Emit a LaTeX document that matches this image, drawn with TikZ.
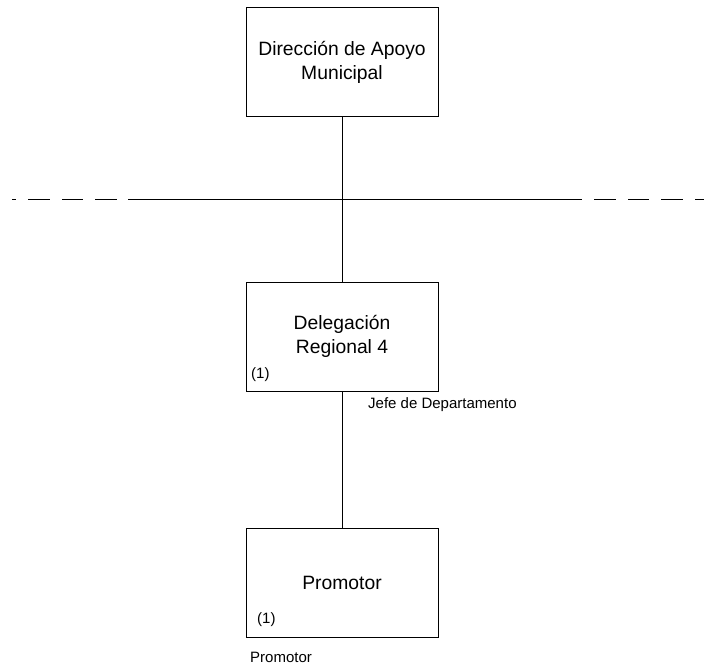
\documentclass[tikz,border=0pt]{standalone}
\usepackage{fontspec}
\setmainfont{Liberation Sans}
\begin{document}
\begin{tikzpicture}[x=1pt,y=-1pt,
  box/.style={draw, line width=1pt, minimum width=192pt, minimum height=109pt, inner sep=0pt, align=center, font=\fontsize{19.3}{24}\selectfont},
  small/.style={inner sep=0pt, anchor=west, font=\fontsize{15}{18}\selectfont},
  link/.style={line width=1pt}]
\useasboundingbox (0,0) rectangle (704,666);
\node[box] (top) at (342,62.5) {Dirección de Apoyo\\Municipal};
\node[box] (mid) at (342,336.5) {Delegación\\Regional 4};
\node[box] (bot) at (342,582.5) {Promotor};
\node[small] (m1) at (251,375) {(1)};
\node[small] (b1) at (257,620) {(1)};
\node[small] (jefe) at (368,405) {Jefe de Departamento};
\node[small] (prom) at (250,657) {Promotor};
\draw[link] (top) -- (mid);
\draw[link] (mid) -- (bot);
\foreach \a/\b in {12/16,28/50,62/83,95/117,128/582,594/616,628/649,661/683,695/704}
  \draw[line width=1pt] (\a,199) -- (\b,199);
\end{tikzpicture}
\end{document}
